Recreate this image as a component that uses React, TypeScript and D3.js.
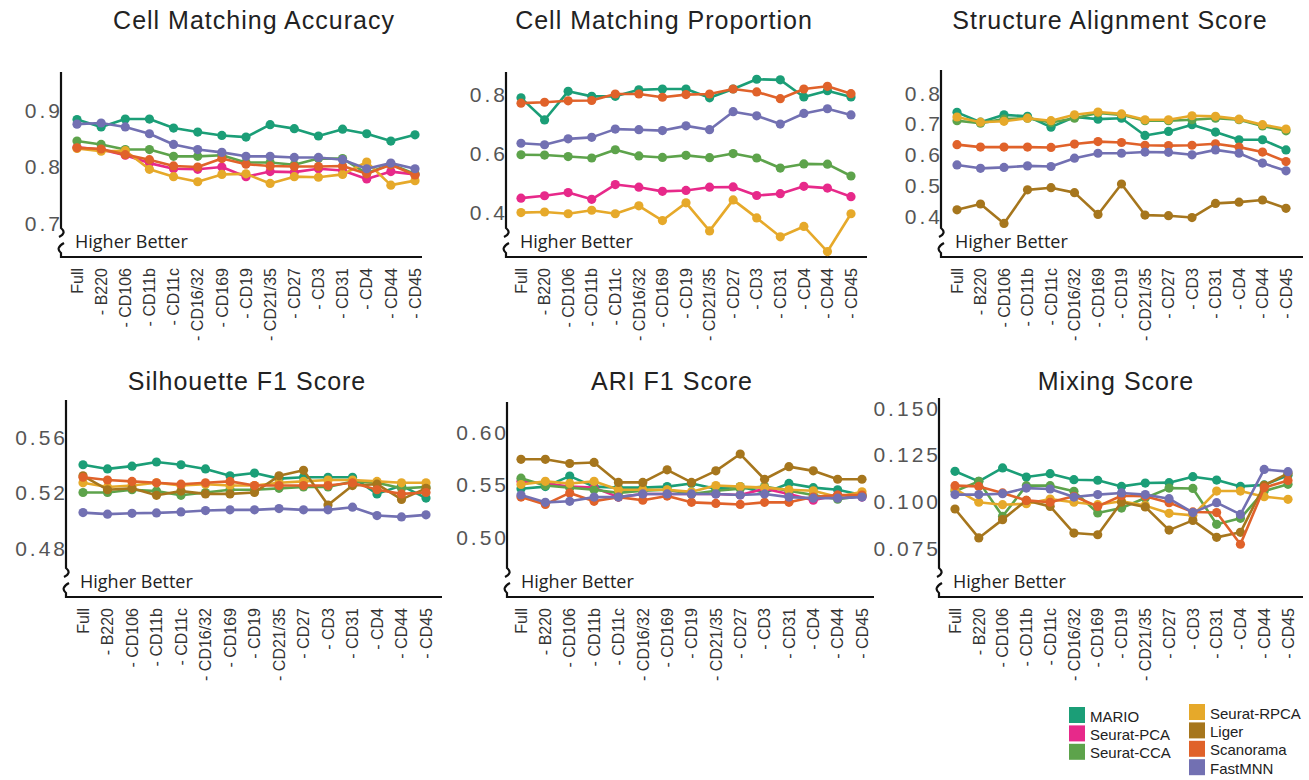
import React from "react";
import * as d3 from "d3";

// Marker panels: each metric is measured on the full panel and with one marker removed
const categories = [
  "Full", "- B220", "- CD106", "- CD11b", "- CD11c", "- CD16/32", "- CD169", "- CD19",
  "- CD21/35", "- CD27", "- CD3", "- CD31", "- CD4", "- CD44", "- CD45",
];

const methods = ["MARIO", "Seurat-PCA", "Seurat-CCA", "Seurat-RPCA", "Liger", "Scanorama", "FastMNN"];
const methodColors = ["#1b9e77", "#e7298a", "#5da34b", "#e6a92a", "#a6761d", "#e0622a", "#7270b2"];

const cellMatchingAccuracy: Record<string, number[]> = {
  MARIO: [0.883, 0.870, 0.884, 0.884, 0.868, 0.861, 0.855, 0.852, 0.874, 0.867, 0.854, 0.866, 0.858, 0.845, 0.856],
  "Seurat-PCA": [0.834, 0.830, 0.820, 0.806, 0.796, 0.795, 0.799, 0.782, 0.791, 0.790, 0.796, 0.793, 0.778, 0.791, 0.786],
  "Seurat-CCA": [0.845, 0.839, 0.830, 0.830, 0.818, 0.818, 0.820, 0.807, 0.807, 0.803, 0.814, 0.814, 0.788, 0.804, 0.787],
  "Seurat-RPCA": [0.832, 0.827, 0.828, 0.795, 0.782, 0.773, 0.786, 0.787, 0.770, 0.782, 0.781, 0.786, 0.808, 0.767, 0.775],
  Scanorama: [0.833, 0.831, 0.821, 0.812, 0.801, 0.799, 0.814, 0.804, 0.801, 0.800, 0.800, 0.801, 0.787, 0.803, 0.785],
  FastMNN: [0.875, 0.877, 0.870, 0.858, 0.839, 0.830, 0.825, 0.818, 0.818, 0.816, 0.816, 0.812, 0.796, 0.806, 0.796],
};

const cellMatchingProportion: Record<string, number[]> = {
  MARIO: [0.787, 0.712, 0.809, 0.792, 0.792, 0.814, 0.817, 0.817, 0.787, 0.817, 0.850, 0.848, 0.790, 0.811, 0.790],
  "Seurat-PCA": [0.447, 0.455, 0.466, 0.443, 0.493, 0.484, 0.470, 0.473, 0.484, 0.485, 0.456, 0.462, 0.487, 0.481, 0.452],
  "Seurat-CCA": [0.594, 0.593, 0.588, 0.583, 0.611, 0.590, 0.585, 0.592, 0.584, 0.598, 0.583, 0.549, 0.563, 0.562, 0.522],
  "Seurat-RPCA": [0.398, 0.400, 0.394, 0.406, 0.394, 0.421, 0.371, 0.431, 0.336, 0.441, 0.380, 0.316, 0.351, 0.266, 0.394],
  Scanorama: [0.769, 0.772, 0.777, 0.778, 0.800, 0.800, 0.789, 0.798, 0.800, 0.817, 0.807, 0.784, 0.817, 0.826, 0.801],
  FastMNN: [0.633, 0.628, 0.648, 0.653, 0.681, 0.679, 0.676, 0.692, 0.679, 0.740, 0.726, 0.698, 0.734, 0.750, 0.729],
};

const structureAlignment: Record<string, number[]> = {
  MARIO: [0.737, 0.705, 0.729, 0.724, 0.689, 0.722, 0.715, 0.718, 0.662, 0.675, 0.697, 0.673, 0.648, 0.648, 0.615],
  "Seurat-CCA": [0.710, 0.702, 0.715, 0.718, 0.704, 0.718, 0.735, 0.729, 0.710, 0.710, 0.713, 0.718, 0.713, 0.693, 0.677],
  "Seurat-RPCA": [0.722, 0.705, 0.708, 0.718, 0.710, 0.729, 0.738, 0.732, 0.713, 0.713, 0.726, 0.724, 0.715, 0.697, 0.683],
  Liger: [0.420, 0.439, 0.376, 0.485, 0.492, 0.476, 0.405, 0.504, 0.403, 0.401, 0.395, 0.441, 0.445, 0.452, 0.425],
  Scanorama: [0.632, 0.624, 0.624, 0.624, 0.623, 0.634, 0.642, 0.639, 0.630, 0.629, 0.630, 0.635, 0.624, 0.608, 0.577],
  FastMNN: [0.566, 0.555, 0.558, 0.563, 0.561, 0.588, 0.604, 0.604, 0.608, 0.607, 0.599, 0.615, 0.604, 0.572, 0.547],
};

const silhouetteF1: Record<string, number[]> = {
  MARIO: [0.540, 0.537, 0.539, 0.542, 0.540, 0.537, 0.532, 0.534, 0.530, 0.531, 0.531, 0.531, 0.519, 0.525, 0.516],
  "Seurat-CCA": [0.520, 0.520, 0.522, 0.521, 0.518, 0.520, 0.522, 0.522, 0.523, 0.524, 0.524, 0.528, 0.527, 0.523, 0.524],
  "Seurat-RPCA": [0.527, 0.524, 0.525, 0.527, 0.525, 0.526, 0.525, 0.525, 0.527, 0.528, 0.529, 0.529, 0.528, 0.527, 0.527],
  Liger: [0.532, 0.522, 0.523, 0.518, 0.521, 0.519, 0.519, 0.520, 0.532, 0.536, 0.511, 0.525, 0.526, 0.515, 0.523],
  Scanorama: [0.531, 0.529, 0.528, 0.527, 0.526, 0.527, 0.528, 0.525, 0.525, 0.525, 0.525, 0.527, 0.522, 0.519, 0.520],
  FastMNN: [0.5055, 0.5044, 0.505, 0.5053, 0.506, 0.507, 0.5075, 0.5075, 0.5084, 0.5075, 0.5075, 0.5094, 0.5034, 0.5024, 0.5039],
};

const ariF1: Record<string, number[]> = {
  MARIO: [0.546, 0.548, 0.558, 0.548, 0.547, 0.547, 0.548, 0.551, 0.546, 0.548, 0.542, 0.551, 0.547, 0.545, 0.540],
  "Seurat-PCA": [0.553, 0.551, 0.548, 0.547, 0.538, 0.541, 0.541, 0.541, 0.541, 0.540, 0.546, 0.541, 0.535, 0.540, 0.538],
  "Seurat-CCA": [0.556, 0.549, 0.547, 0.545, 0.542, 0.544, 0.545, 0.541, 0.544, 0.546, 0.548, 0.544, 0.540, 0.536, 0.539],
  "Seurat-RPCA": [0.550, 0.553, 0.551, 0.553, 0.545, 0.545, 0.545, 0.543, 0.549, 0.548, 0.547, 0.545, 0.544, 0.538, 0.543],
  Liger: [0.574, 0.574, 0.570, 0.571, 0.552, 0.552, 0.564, 0.552, 0.563, 0.579, 0.555, 0.567, 0.563, 0.555, 0.555],
  Scanorama: [0.538, 0.531, 0.542, 0.534, 0.538, 0.535, 0.539, 0.533, 0.532, 0.531, 0.533, 0.533, 0.538, 0.540, 0.540],
  FastMNN: [0.540, 0.533, 0.534, 0.538, 0.538, 0.541, 0.541, 0.541, 0.541, 0.540, 0.541, 0.538, 0.537, 0.537, 0.538],
};

const mixingScore: Record<string, number[]> = {
  MARIO: [0.1161, 0.1107, 0.1179, 0.1130, 0.1148, 0.1116, 0.1113, 0.1080, 0.1098, 0.1100, 0.1132, 0.1114, 0.1080, 0.1088, 0.1140],
  "Seurat-CCA": [0.1054, 0.1107, 0.0920, 0.1084, 0.1084, 0.1054, 0.0938, 0.0964, 0.1018, 0.1071, 0.1069, 0.0877, 0.0909, 0.1055, 0.1091],
  "Seurat-RPCA": [0.1066, 0.0995, 0.0982, 0.0987, 0.1012, 0.0995, 0.0982, 0.1000, 0.0977, 0.0936, 0.0925, 0.1055, 0.1055, 0.1025, 0.1011],
  Liger: [0.0959, 0.0804, 0.0902, 0.1005, 0.0973, 0.0830, 0.0821, 0.0995, 0.0970, 0.0846, 0.0898, 0.0807, 0.0834, 0.1086, 0.1150],
  Scanorama: [0.1084, 0.1080, 0.1045, 0.1005, 0.0995, 0.1027, 0.0973, 0.1030, 0.1027, 0.0993, 0.0943, 0.0940, 0.0770, 0.1073, 0.1112],
  FastMNN: [0.1036, 0.1036, 0.1041, 0.1071, 0.1066, 0.1023, 0.1036, 0.1045, 0.1036, 0.1014, 0.0940, 0.0993, 0.0930, 0.1171, 0.1159],
};

const accuracyTicks = [0.7, 0.8, 0.9];
const proportionTicks = [0.4, 0.6, 0.8];
const alignmentTicks = [0.4, 0.5, 0.6, 0.7, 0.8];
const silhouetteTicks = [0.48, 0.52, 0.56];
const ariTicks = [0.5, 0.55, 0.6];
const mixingTicks = [0.075, 0.1, 0.125, 0.15];

interface PanelSpec {
  title: string;
  data: Record<string, number[]>;
  ticks: number[];
  fmt: string;
  // layout
  axisX: number;
  top: number;
  base: number;
  xEnd: number;
  x0: number;
  x1: number;
  yLo: number;
  yHi: number;
  titleX: number;
  titleY: number;
}

const panels: PanelSpec[] = [
  { title: "Cell Matching Accuracy", data: cellMatchingAccuracy, ticks: accuracyTicks, fmt: ".1f",
    axisX: 61, top: 72, base: 257, xEnd: 422, x0: 77, x1: 415, yLo: 223, yHi: 110, titleX: 254, titleY: 29 },
  { title: "Cell Matching Proportion", data: cellMatchingProportion, ticks: proportionTicks, fmt: ".1f",
    axisX: 506, top: 72, base: 257, xEnd: 867, x0: 521, x1: 851, yLo: 212, yHi: 94, titleX: 664, titleY: 29 },
  { title: "Structure Alignment Score", data: structureAlignment, ticks: alignmentTicks, fmt: ".1f",
    axisX: 941, top: 70, base: 257, xEnd: 1303, x0: 957, x1: 1286, yLo: 216, yHi: 93, titleX: 1110, titleY: 29 },
  { title: "Silhouette F1 Score", data: silhouetteF1, ticks: silhouetteTicks, fmt: ".2f",
    axisX: 66, top: 400, base: 597, xEnd: 442, x0: 83, x1: 426, yLo: 548, yHi: 437, titleX: 247, titleY: 390 },
  { title: "ARI F1 Score", data: ariF1, ticks: ariTicks, fmt: ".2f",
    axisX: 507, top: 402, base: 597, xEnd: 874, x0: 521, x1: 862, yLo: 537, yHi: 432, titleX: 672, titleY: 390 },
  { title: "Mixing Score", data: mixingScore, ticks: mixingTicks, fmt: ".3f",
    axisX: 939, top: 398, base: 597, xEnd: 1303, x0: 955, x1: 1288, yLo: 548, yHi: 408, titleX: 1116, titleY: 390 },
];

const legendLeft = ["MARIO", "Seurat-PCA", "Seurat-CCA"];
const legendRight = ["Seurat-RPCA", "Liger", "Scanorama", "FastMNN"];

const sansLabel = "'Liberation Sans', Arial, Helvetica, sans-serif";
const humanist = "'Open Sans', 'Noto Sans', sans-serif";

function colorOf(name: string) {
  return methodColors[methods.indexOf(name)];
}

function Panel({ p }: { p: PanelSpec }) {
  const x = d3.scalePoint<string>().domain(categories).range([p.x0, p.x1]);
  const y = d3
    .scaleLinear()
    .domain([p.ticks[0], p.ticks[p.ticks.length - 1]])
    .range([p.yLo, p.yHi]);
  const fmt = d3.format(p.fmt);
  const line = d3
    .line<number>()
    .x((_, i) => x(categories[i]) as number)
    .y((v) => y(v));

  const ax = p.axisX;
  const b = p.base;
  // y axis with a broken segment just above the x axis
  const axisPath =
    `M${ax},${p.top}V${b - 29}Q${ax + 6},${b - 24} ${ax - 2},${b - 20}` +
    `M${ax + 3},${b - 14}Q${ax - 6},${b - 9} ${ax},${b - 4}V${b}H${p.xEnd}`;

  const series = methods.filter((m) => p.data[m]);

  return (
    <g>
      <text
        x={p.titleX}
        y={p.titleY}
        textAnchor="middle"
        fontFamily={sansLabel}
        fontSize={25}
        letterSpacing={1}
        fill="#222"
      >
        {p.title}
      </text>
      <path d={axisPath} fill="none" stroke="#111" strokeWidth={2.2} />
      {p.ticks.map((t) => (
        <text
          key={t}
          x={ax + 2}
          y={y(t)}
          textAnchor="end"
          dominantBaseline="central"
          fontFamily={sansLabel}
          fontSize={21}
          letterSpacing={3}
          fill="#555"
        >
          {fmt(t)}
        </text>
      ))}
      <text x={ax + 14} y={b - 9} fontFamily={humanist} fontSize={18} fill="#222">
        Higher Better
      </text>
      {categories.map((c) => (
        <text
          key={c}
          transform={`translate(${x(c)},${b + 11}) rotate(-90)`}
          textAnchor="end"
          dy="0.36em"
          fontFamily={sansLabel}
          fontSize={16}
          fill="#333"
        >
          {c}
        </text>
      ))}
      {series.map((m) => (
        <g key={m}>
          <path
            d={line(p.data[m]) as string}
            fill="none"
            stroke={colorOf(m)}
            strokeWidth={2.6}
            strokeLinejoin="round"
          />
          {p.data[m].map((v, i) => (
            <circle key={i} cx={x(categories[i])} cy={y(v)} r={4.6} fill={colorOf(m)} />
          ))}
        </g>
      ))}
    </g>
  );
}

function Legend() {
  const col = (names: string[], sx: number, sy: number) =>
    names.map((n, i) => (
      <g key={n} transform={`translate(${sx},${sy + i * 18.4})`}>
        <rect x={0} y={0} width={16} height={16} fill={colorOf(n)} />
        <text x={21} y={14.5} fontFamily={sansLabel} fontSize={15} fill="#222">
          {n}
        </text>
      </g>
    ));
  return (
    <g>
      {col(legendLeft, 1069, 707)}
      {col(legendRight, 1189, 704)}
    </g>
  );
}

export default function App() {
  return (
    <svg
      width={1309}
      height={780}
      style={{ position: "absolute", left: 0, top: 0, background: "#fff" }}
    >
      <rect width={1309} height={780} fill="#fff" />
      {panels.map((p) => (
        <Panel key={p.title} p={p} />
      ))}
      <Legend />
    </svg>
  );
}
